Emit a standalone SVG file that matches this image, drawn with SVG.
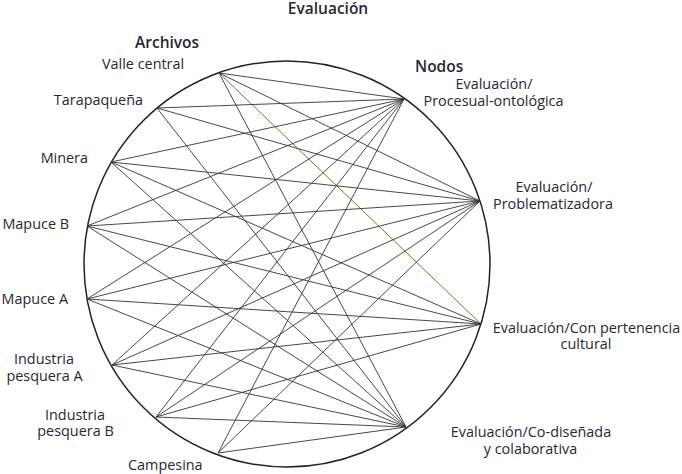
<svg xmlns="http://www.w3.org/2000/svg" width="682" height="474" viewBox="0 0 682 474">
<style>
text{font-family:"Open Sans","Noto Sans","Liberation Sans",sans-serif;fill:#2a2633;font-size:14.4px}
.h{font-weight:600;font-size:15.5px}
.m{text-anchor:middle}
.e{text-anchor:end}
.c line{stroke:#333;stroke-width:0.9}
.c line.o{stroke:#6e5e17}
</style>
<rect width="682" height="474" fill="#fff"/>
<text class="h m" x="328" y="13.5">Evaluación</text>
<text class="h" x="135" y="48">Archivos</text>
<text class="h" x="415" y="72">Nodos</text>
<circle cx="287" cy="264" r="203" fill="none" stroke="#222" stroke-width="1.5"/>
<g class="c" id="connectors">
<line x1="219" y1="73" x2="404" y2="99"/>
<line x1="219" y1="73" x2="480" y2="201"/>
<line class="o" x1="219" y1="73" x2="481" y2="324"/>
<line x1="219" y1="73" x2="406" y2="427"/>
<line x1="157" y1="108" x2="404" y2="99"/>
<line x1="157" y1="108" x2="480" y2="201"/>
<line x1="157" y1="108" x2="406" y2="427"/>
<line x1="111" y1="162" x2="404" y2="99"/>
<line x1="111" y1="162" x2="480" y2="201"/>
<line x1="111" y1="162" x2="481" y2="324"/>
<line x1="111" y1="162" x2="406" y2="427"/>
<line x1="87" y1="226" x2="404" y2="99"/>
<line x1="87" y1="226" x2="480" y2="201"/>
<line x1="87" y1="226" x2="481" y2="324"/>
<line x1="87" y1="226" x2="406" y2="427"/>
<line x1="87" y1="299" x2="404" y2="99"/>
<line x1="87" y1="299" x2="480" y2="201"/>
<line x1="87" y1="299" x2="481" y2="324"/>
<line x1="87" y1="299" x2="406" y2="427"/>
<line x1="112" y1="365" x2="404" y2="99"/>
<line x1="112" y1="365" x2="480" y2="201"/>
<line x1="112" y1="365" x2="481" y2="324"/>
<line x1="112" y1="365" x2="406" y2="427"/>
<line x1="156" y1="417" x2="404" y2="99"/>
<line x1="156" y1="417" x2="480" y2="201"/>
<line x1="156" y1="417" x2="481" y2="324"/>
<line x1="156" y1="417" x2="406" y2="427"/>
<line x1="218" y1="453" x2="404" y2="99"/>
<line x1="218" y1="453" x2="480" y2="201"/>
<line x1="218" y1="453" x2="406" y2="427"/>
</g>
<g id="valle-central"><text x="102" y="69">Valle central</text></g>
<g id="tarapaquena"><text class="e" x="143" y="105">Tarapaqueña</text></g>
<g id="minera"><text class="e" x="88" y="163">Minera</text></g>
<g id="mapuce-b"><text class="e" x="69" y="229">Mapuce B</text></g>
<g id="mapuce-a"><text class="e" x="68" y="304">Mapuce A</text></g>
<g id="industria-pesquera-a"><text class="m" x="44" y="364">Industria</text><text class="m" x="44.5" y="381">pesquera A</text></g>
<g id="industria-pesquera-b"><text class="m" x="75" y="420">Industria</text><text class="m" x="75.5" y="436">pesquera B</text></g>
<g id="campesina"><text x="128" y="470">Campesina</text></g>
<g id="procesual"><text class="m" x="494" y="89">Evaluación/</text><text class="m" x="493.5" y="106">Procesual-ontológica</text></g>
<g id="problematizadora"><text class="m" x="554" y="192">Evaluación/</text><text class="m" x="553" y="208.5">Problematizadora</text></g>
<g id="pertenencia"><text class="m" x="586.5" y="333">Evaluación/Con pertenencia</text><text class="m" x="586" y="348.5">cultural</text></g>
<g id="codisenada"><text class="m" x="531" y="437">Evaluación/Co-diseñada</text><text class="m" x="530.5" y="453.5">y colaborativa</text></g>
</svg>
